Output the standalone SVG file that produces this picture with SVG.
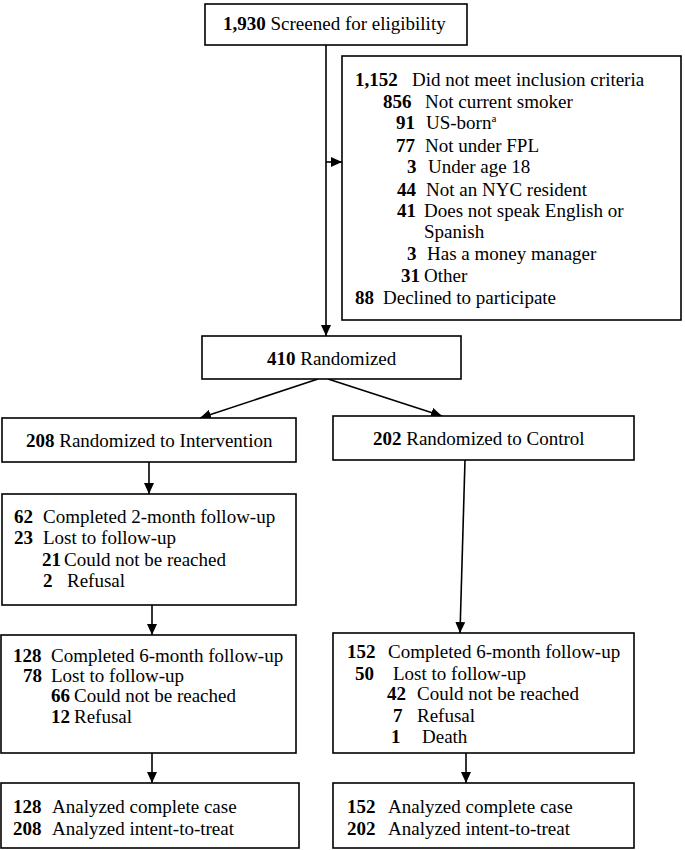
<svg xmlns="http://www.w3.org/2000/svg" width="685" height="850" viewBox="0 0 685 850" font-family="'Liberation Serif', 'DejaVu Serif', serif" font-size="19">
<defs>
<marker id="ah" markerUnits="userSpaceOnUse" markerWidth="12" markerHeight="10" refX="11" refY="5" orient="auto">
<path d="M0,0 L11,5 L0,10 z" fill="#000"/>
</marker>
<style>
rect{fill:#fff;stroke:#000;stroke-width:1.6}
text{font-family:'Liberation Serif','DejaVu Serif',serif;font-size:19px;fill:#000}
.b{font-weight:bold}
.c line{stroke:#000;stroke-width:1.6;marker-end:url(#ah)}
</style>
</defs>
<rect x="0" y="0" width="685" height="850" style="fill:#fff;stroke:none"/>
<g class="c" id="connectors">
<line x1="326" y1="45" x2="326" y2="336"/>
<line x1="326" y1="162" x2="342" y2="162"/>
<line x1="318" y1="379" x2="200" y2="418"/>
<line x1="328" y1="379" x2="442" y2="416"/>
<line x1="149" y1="462" x2="149" y2="494"/>
<line x1="465" y1="460" x2="460" y2="633"/>
<line x1="152" y1="605" x2="152" y2="635"/>
<line x1="152" y1="753" x2="152" y2="783"/>
<line x1="466" y1="753" x2="466" y2="783"/>
</g>
<g id="screened">
<rect x="205" y="4" width="262" height="41"/>
<text x="223" y="30"><tspan class="b">1,930</tspan> Screened for eligibility</text>
</g>
<g id="excluded">
<rect x="342" y="56" width="339" height="264"/>
<text y="86"><tspan class="b" x="355">1,152</tspan><tspan x="412">Did not meet inclusion criteria</tspan></text>
<text y="108"><tspan class="b" x="383">856</tspan><tspan x="425">Not current smoker</tspan></text>
<text y="129"><tspan class="b" x="396">91</tspan><tspan x="426">US-born</tspan><tspan font-size="11" dy="-7">a</tspan></text>
<text y="152"><tspan class="b" x="396">77</tspan><tspan x="425">Not under FPL</tspan></text>
<text y="173"><tspan class="b" x="407">3</tspan><tspan x="428">Under age 18</tspan></text>
<text y="196"><tspan class="b" x="397">44</tspan><tspan x="426">Not an NYC resident</tspan></text>
<text y="217"><tspan class="b" x="397">41</tspan><tspan x="424">Does not speak English or</tspan></text>
<text y="238" x="424">Spanish</text>
<text y="260"><tspan class="b" x="407">3</tspan><tspan x="427">Has a money manager</tspan></text>
<text y="282"><tspan class="b" x="401">31</tspan><tspan x="424">Other</tspan></text>
<text y="304"><tspan class="b" x="355">88</tspan><tspan x="383">Declined to participate</tspan></text>
</g>
<g id="randomized">
<rect x="202" y="336" width="259" height="43"/>
<text x="267" y="365"><tspan class="b">410</tspan> Randomized</text>
</g>
<g id="intervention">
<rect x="2" y="418" width="294" height="44"/>
<text x="26" y="447"><tspan class="b">208</tspan> Randomized to Intervention</text>
</g>
<g id="control">
<rect x="333" y="416" width="301" height="44"/>
<text x="373" y="445"><tspan class="b">202</tspan> Randomized to Control</text>
</g>
<g id="followup2">
<rect x="2" y="494" width="294" height="111"/>
<text y="523"><tspan class="b" x="14">62</tspan><tspan x="43">Completed 2-month follow-up</tspan></text>
<text y="544"><tspan class="b" x="14">23</tspan><tspan x="43">Lost to follow-up</tspan></text>
<text y="566"><tspan class="b" x="42">21</tspan><tspan x="64">Could not be reached</tspan></text>
<text y="587"><tspan class="b" x="43">2</tspan><tspan x="67">Refusal</tspan></text>
</g>
<g id="followup6-int">
<rect x="1" y="635" width="295" height="118"/>
<text y="662"><tspan class="b" x="13">128</tspan><tspan x="51">Completed 6-month follow-up</tspan></text>
<text y="682"><tspan class="b" x="23">78</tspan><tspan x="51">Lost to follow-up</tspan></text>
<text y="702"><tspan class="b" x="51">66</tspan><tspan x="74">Could not be reached</tspan></text>
<text y="723"><tspan class="b" x="51">12</tspan><tspan x="74">Refusal</tspan></text>
</g>
<g id="followup6-ctl">
<rect x="333" y="633" width="301" height="120"/>
<text y="658"><tspan class="b" x="347">152</tspan><tspan x="388">Completed 6-month follow-up</tspan></text>
<text y="680"><tspan class="b" x="355">50</tspan><tspan x="393">Lost to follow-up</tspan></text>
<text y="700"><tspan class="b" x="387">42</tspan><tspan x="417">Could not be reached</tspan></text>
<text y="722"><tspan class="b" x="393">7</tspan><tspan x="417">Refusal</tspan></text>
<text y="743"><tspan class="b" x="391">1</tspan><tspan x="422">Death</tspan></text>
</g>
<g id="analyzed-int">
<rect x="1" y="783" width="298" height="65"/>
<text y="813"><tspan class="b" x="13">128</tspan><tspan x="52">Analyzed complete case</tspan></text>
<text y="835"><tspan class="b" x="13">208</tspan><tspan x="52">Analyzed intent-to-treat</tspan></text>
</g>
<g id="analyzed-ctl">
<rect x="333" y="783" width="301" height="65"/>
<text y="813"><tspan class="b" x="347">152</tspan><tspan x="388">Analyzed complete case</tspan></text>
<text y="835"><tspan class="b" x="347">202</tspan><tspan x="388">Analyzed intent-to-treat</tspan></text>
</g>
</svg>
